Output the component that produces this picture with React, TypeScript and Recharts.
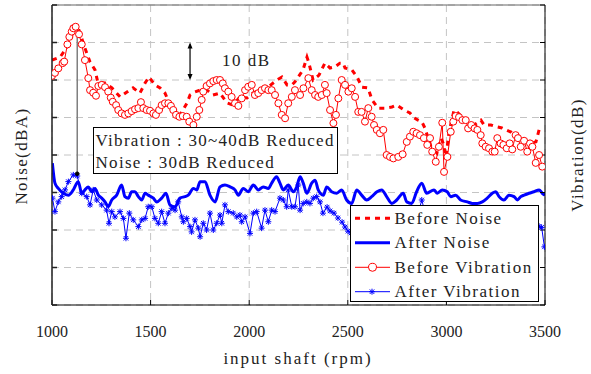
import React from 'react'
import {
  LineChart,
  Line,
  XAxis,
  YAxis,
  CartesianGrid,
  ReferenceLine,
  ReferenceDot,
} from 'recharts'

const FONT = '"Liberation Serif", "DejaVu Serif", serif'
const RED = '#ff0000'
const BLUE = '#0000ff'

const rpmTicks = [1000, 1500, 2000, 2500, 3000, 3500]
const dbTicks = [0, 10, 20, 30, 40, 50, 60, 70, 80]

// [rpm, dB] pairs
const beforeNoise: [number, number][] = [
  [1000, 65.3], [1041, 66.1], [1081, 69.1], [1101, 72], [1127, 74.7], [1142, 72.5],
  [1167, 68.5], [1193, 64.8], [1218, 62.7], [1233, 59.2], [1269, 59.2], [1304, 57.9],
  [1345, 55.5], [1380, 56.8], [1411, 57.9], [1446, 56.5], [1472, 59.2], [1492, 60.8],
  [1522, 58.7], [1548, 57.9], [1573, 56.5], [1588, 54.7], [1609, 52.8], [1624, 50.7],
  [1639, 50.1], [1659, 51.5], [1685, 53.9], [1700, 56], [1725, 56.8], [1751, 57.3],
  [1786, 57.3], [1816, 56], [1852, 56.5], [1887, 53.9], [1918, 53.3], [1953, 55.5],
  [1989, 55.2], [2019, 56.5], [2055, 57.3], [2090, 57.9], [2141, 60], [2166, 60.8],
  [2192, 58.7], [2217, 58.7], [2232, 59.5], [2273, 62.7], [2293, 66.1], [2303, 64.5],
  [2324, 60], [2354, 61.3], [2384, 64.5], [2410, 63.2], [2435, 63.5], [2460, 64.5],
  [2476, 64.5], [2486, 63.2], [2521, 62.7], [2547, 60.8], [2572, 58.1], [2602, 57.9],
  [2623, 54.7], [2653, 52.5], [2689, 52.5], [2724, 52.8], [2749, 53.3], [2785, 52],
  [2815, 51.2], [2836, 49.9], [2856, 49.3], [2876, 48.8], [2891, 47.2], [2922, 42.1],
  [2952, 40.5], [2973, 44.5], [2983, 43.2], [2998, 39.5], [3013, 46.1], [3039, 52],
  [3054, 51.5], [3079, 50.1], [3104, 48.8], [3140, 48], [3175, 49.3], [3191, 48],
  [3226, 48], [3257, 47.5], [3282, 47.2], [3302, 46.7], [3328, 46.1], [3353, 44.8],
  [3378, 44.5], [3409, 43.5], [3434, 43.2], [3454, 43.5], [3470, 46.7], [3490, 47.2],
]

const afterNoise: [number, number][] = [
  [1002, 37.8], [1015, 32.5], [1032, 31.1], [1057, 29.8], [1083, 29.3], [1108, 30.7],
  [1133, 32.9], [1151, 29.8], [1167, 30.7], [1184, 31.5], [1201, 30.2], [1218, 31.1],
  [1235, 29.3], [1252, 28.5], [1269, 27.5], [1285, 26.2], [1303, 28], [1328, 29.3],
  [1353, 32], [1370, 28.9], [1387, 28.5], [1404, 30.2], [1421, 30.2], [1438, 28.9],
  [1455, 28], [1472, 29.8], [1488, 29.3], [1514, 28.5], [1531, 27.5], [1556, 28.5],
  [1578, 29.8], [1598, 26.7], [1624, 26.2], [1649, 28.5], [1674, 28.9], [1691, 29.3],
  [1717, 31.1], [1734, 30.7], [1751, 32.9], [1776, 32.9], [1801, 29.3], [1827, 27.5],
  [1852, 31.5], [1877, 32], [1903, 31.5], [1928, 30.7], [1945, 29.3], [1970, 31.1],
  [1995, 30.2], [2021, 32], [2046, 30.7], [2071, 31.5], [2097, 31.1], [2114, 32.5],
  [2139, 34.2], [2156, 32.5], [2173, 30.7], [2198, 32], [2224, 30.2], [2241, 31.5],
  [2258, 34.2], [2274, 32.5], [2292, 29.8], [2317, 32.5], [2334, 33.3], [2350, 30.7],
  [2376, 29.3], [2393, 31.5], [2418, 30.2], [2444, 29.8], [2469, 30.7], [2494, 28],
  [2520, 27.1], [2545, 30.7], [2570, 29.3], [2596, 28], [2621, 28.9], [2648, 30.2],
  [2672, 30.7], [2697, 28.9], [2723, 27.1], [2748, 28], [2781, 29.8], [2799, 27.5],
  [2824, 27.1], [2849, 30.2], [2875, 32.5], [2900, 29.8], [2937, 30.7], [2954, 29.8],
  [2979, 30.7], [3004, 30.2], [3022, 28.9], [3047, 29.3], [3072, 28], [3106, 27.5],
  [3131, 27.1], [3157, 27.1], [3182, 27.5], [3207, 28.5], [3233, 29.8], [3250, 30.2],
  [3267, 28.9], [3292, 28], [3317, 29.3], [3343, 28.9], [3360, 28], [3377, 28.9],
  [3394, 29.3], [3419, 29.8], [3444, 30.2], [3470, 30.7], [3486, 29.8], [3500, 29.3],
]

const beforeVibration: [number, number][] = [
  [1000, 61.1], [1015, 61.9], [1032, 63.1], [1054, 64.5], [1062, 64.9], [1078, 69.5],
  [1088, 71.5], [1100, 72.9], [1108, 73.8], [1120, 74.2], [1137, 72.2], [1151, 69.5],
  [1167, 65.3], [1184, 60.5], [1193, 57.3], [1209, 56.6], [1223, 55.8], [1235, 58.4],
  [1252, 58.7], [1269, 58.1], [1285, 56.9], [1298, 55.3], [1308, 54.2], [1325, 53.3],
  [1336, 52], [1353, 51.1], [1370, 50.7], [1387, 51.1], [1404, 51.7], [1421, 52.2],
  [1438, 52.5], [1451, 54.1], [1463, 52.5], [1480, 52], [1497, 51.8], [1514, 51.1],
  [1527, 50.7], [1543, 52], [1556, 53.3], [1573, 53.8], [1590, 53.8], [1603, 53.1],
  [1615, 52], [1629, 50.7], [1646, 50.2], [1663, 50.4], [1683, 50.2], [1696, 48.9],
  [1717, 48], [1734, 50.2], [1747, 52], [1759, 54.7], [1767, 56.9], [1784, 58.4],
  [1801, 59.1], [1818, 59.7], [1835, 60], [1852, 60], [1866, 59.1], [1877, 57.8],
  [1894, 56.9], [1911, 55.5], [1928, 53.8], [1945, 53.1], [1962, 55.1], [1979, 57.3],
  [1995, 58.2], [2013, 58.7], [2029, 56], [2046, 56.5], [2063, 57.3], [2080, 57.8],
  [2097, 57.3], [2114, 57.3], [2131, 56], [2148, 53.8], [2165, 50.7], [2182, 49.8],
  [2198, 53.8], [2216, 55.5], [2232, 57.3], [2258, 56], [2275, 57.8], [2300, 60.5],
  [2317, 57.3], [2334, 56], [2350, 55.5], [2368, 56], [2384, 58.7], [2393, 56.5],
  [2410, 52], [2427, 48.5], [2440, 50.7], [2452, 55.1], [2469, 60], [2486, 58.7],
  [2503, 56.9], [2520, 57.8], [2537, 55.5], [2553, 51.5], [2570, 51.5], [2587, 48.9],
  [2604, 52.5], [2621, 50.2], [2633, 48], [2647, 46.7], [2663, 45.8], [2680, 46.7],
  [2697, 40], [2714, 39.5], [2731, 39.1], [2756, 39.5], [2778, 40.2], [2799, 43.5],
  [2815, 44.9], [2832, 46.2], [2849, 45.8], [2866, 45.3], [2886, 44.5], [2903, 42.7],
  [2917, 44.5], [2928, 40.9], [2946, 38.2], [2962, 42.2], [2979, 48.6], [2988, 35.5],
  [3005, 39.5], [3022, 46.2], [3035, 48.9], [3047, 50.4], [3064, 50.1], [3081, 49.3],
  [3098, 49.3], [3110, 47.1], [3126, 48], [3143, 47.1], [3157, 46.7], [3174, 45.3],
  [3182, 43.1], [3199, 42.2], [3216, 41.8], [3233, 40.9], [3245, 40.9], [3258, 44.5],
  [3275, 43.1], [3289, 42.7], [3306, 41.8], [3321, 43.1], [3334, 41.5], [3351, 45.3],
  [3363, 44.5], [3377, 42.2], [3394, 43.8], [3410, 40.9], [3424, 43.1], [3436, 42.2],
  [3453, 37.9], [3470, 40], [3486, 36.9],
]

const afterVibration: [number, number][] = [
  [1002, 28.5], [1015, 24.9], [1032, 27.5], [1049, 28.9], [1066, 30.7], [1083, 32.9],
  [1108, 34.7], [1128, 34.4], [1151, 29.8], [1176, 28.9], [1193, 26.7], [1209, 30.7],
  [1227, 28], [1252, 26.7], [1277, 25.3], [1289, 21.8], [1303, 24.9], [1319, 23.5],
  [1345, 24.9], [1362, 23.1], [1375, 17.8], [1392, 24.5], [1412, 22.7], [1438, 20.9],
  [1455, 22.7], [1472, 23.1], [1488, 26.2], [1506, 26.2], [1522, 23.1], [1539, 21.8],
  [1556, 24.9], [1573, 21.8], [1590, 24.5], [1607, 25.8], [1624, 25.3], [1640, 27.5],
  [1658, 23.5], [1666, 22.2], [1683, 23.1], [1700, 20.9], [1708, 19.5], [1725, 22.7],
  [1742, 20.5], [1751, 18.2], [1767, 21.8], [1784, 20], [1801, 24.5], [1818, 20],
  [1835, 21.8], [1852, 24], [1861, 21.8], [1877, 26.7], [1894, 24.9], [1919, 24.5],
  [1937, 23.5], [1953, 24], [1962, 22.2], [1979, 23.5], [2004, 19.1], [2021, 24.5],
  [2038, 24.9], [2063, 20.5], [2080, 25.3], [2097, 22.2], [2114, 25.3], [2131, 24.9],
  [2156, 28.5], [2173, 28], [2190, 26.2], [2198, 30.7], [2216, 26.2], [2232, 26.2],
  [2249, 32], [2258, 25.3], [2274, 27.1], [2292, 27.5], [2308, 27.1], [2325, 28.5],
  [2342, 28.9], [2359, 27.5], [2374, 24.5], [2395, 26.1], [2410, 25.1], [2430, 24.5],
  [2450, 23.2], [2471, 22.1], [2486, 20.8], [2501, 19.7], [2516, 19.2], [2535, 21.5],
  [2555, 20], [2575, 22.5], [2600, 21], [2625, 23], [2650, 21.5], [2675, 24],
  [2700, 22], [2725, 23.5], [2750, 21], [2775, 24], [2800, 22.5], [2825, 25],
  [2850, 23], [2875, 28], [2895, 24], [2920, 22.5], [2945, 24.5], [2970, 21.5],
  [2995, 23], [3020, 24.5], [3045, 22], [3070, 23.5], [3095, 21], [3120, 22.5],
  [3145, 24], [3170, 21.5], [3195, 23], [3220, 22], [3245, 24], [3270, 21],
  [3295, 22.5], [3320, 24], [3345, 21.5], [3370, 23], [3395, 22], [3420, 24],
  [3445, 22], [3470, 21], [3483, 20.7], [3497, 15.5],
]

const legendLabels = ['Before Noise', 'After Noise', 'Before Vibration', 'After Vibration']

const toRows = (pts: [number, number][]) => pts.map(([rpm, db]) => ({ rpm, db }))

// y axes carry tick marks only, no numbers
const noLabel = () => <g />

function Star({ cx, cy, s = 3 }: { cx: number; cy: number; s?: number }) {
  const d = s * 0.75
  return (
    <g stroke={BLUE} strokeWidth={1}>
      <line x1={cx - s} y1={cy} x2={cx + s} y2={cy} />
      <line x1={cx} y1={cy - s} x2={cx} y2={cy + s} />
      <line x1={cx - d} y1={cy - d} x2={cx + d} y2={cy + d} />
      <line x1={cx - d} y1={cy + d} x2={cx + d} y2={cy - d} />
    </g>
  )
}

function starDot(props: any) {
  const { cx, cy, index } = props
  if (cx == null || cy == null) return <g key={`st-${index}`} />
  return (
    <g key={`st-${index}`}>
      <Star cx={cx} cy={cy} />
    </g>
  )
}

// double headed arrow marking a 10 dB span
function TenDbArrow(props: any) {
  const { x1, y1, y2 } = props
  const top = Math.min(y1, y2)
  const bot = Math.max(y1, y2)
  return (
    <g>
      <line x1={x1} y1={top + 2} x2={x1} y2={bot - 2} stroke="#000" strokeWidth={1.2} />
      <polygon points={`${x1},${top} ${x1 - 2.5},${top + 6} ${x1 + 2.5},${top + 6}`} fill="#000" />
      <polygon points={`${x1},${bot} ${x1 - 2.5},${bot - 6} ${x1 + 2.5},${bot - 6}`} fill="#000" />
      <text
        x={x1 + 32}
        y={(top + bot) / 2 + 5}
        fontFamily={FONT}
        fontSize={17}
        letterSpacing={1.5}
        fill="#222"
      >
        10 dB
      </text>
    </g>
  )
}

function LegendBox() {
  const rowY = [13.3, 37.7, 62.3, 86.7]
  return (
    <div
      style={{
        position: 'absolute',
        left: 350,
        top: 205,
        width: 189,
        height: 97,
        boxSizing: 'border-box',
        border: '1.5px solid #000',
        background: '#fff',
      }}
    >
      <svg width={189} height={97} style={{ position: 'absolute', left: -1.5, top: -1.5 }}>
        <line x1={5} x2={40} y1={rowY[0]} y2={rowY[0]} stroke={RED} strokeWidth={3} strokeDasharray="5 5" />
        <line x1={5} x2={40} y1={rowY[1]} y2={rowY[1]} stroke={BLUE} strokeWidth={3} />
        <line x1={5} x2={40} y1={rowY[2]} y2={rowY[2]} stroke={RED} strokeWidth={1} />
        <circle cx={22.5} cy={rowY[2]} r={4} stroke={RED} fill="#fff" strokeWidth={1} />
        <line x1={5} x2={40} y1={rowY[3]} y2={rowY[3]} stroke={BLUE} strokeWidth={1} />
        <Star cx={22} cy={rowY[3]} />
        {legendLabels.map((label, i) => (
          <text
            key={label}
            x={44.5}
            y={rowY[i] + 5.5}
            fontFamily={FONT}
            fontSize={17}
            letterSpacing={1.5}
            fill="#222"
          >
            {label}
          </text>
        ))}
      </svg>
    </div>
  )
}

const textStyle: React.CSSProperties = {
  position: 'absolute',
  fontFamily: FONT,
  fontSize: 17,
  letterSpacing: 1.5,
  color: '#222',
  whiteSpace: 'nowrap',
  lineHeight: 1,
}

export default function App() {
  return (
    <div style={{ position: 'absolute', left: 0, top: 0, width: 591, height: 374, background: '#fff' }}>
      <LineChart width={591} height={374} margin={{ top: 5, right: 36, bottom: 39, left: 42 }}>
        <CartesianGrid stroke="#c4c4c4" strokeDasharray="7 5" />
        <XAxis
          type="number"
          dataKey="rpm"
          domain={[1000, 3500]}
          ticks={rpmTicks}
          allowDataOverflow
          height={30}
          tickSize={-5}
          tickMargin={26}
          stroke="#000"
          tick={{ fill: '#222', fontSize: 16, fontFamily: FONT }}
        />
        <YAxis
          type="number"
          domain={[0, 80]}
          ticks={dbTicks}
          allowDataOverflow
          width={10}
          tickSize={-5}
          tick={noLabel}
          stroke="#222"
          strokeWidth={1.5}
        />
        <YAxis
          yAxisId="right"
          orientation="right"
          type="number"
          domain={[0, 80]}
          ticks={dbTicks}
          allowDataOverflow
          width={10}
          tickSize={-5}
          tick={noLabel}
          stroke="#000"
        />
        <ReferenceLine y={80} stroke="#666" />
        <Line
          data={toRows(beforeVibration)}
          dataKey="db"
          stroke={RED}
          strokeWidth={1}
          dot={{ r: 3.5, stroke: RED, fill: '#fff', strokeWidth: 1 }}
          isAnimationActive={false}
        />
        <Line
          data={toRows(afterVibration)}
          dataKey="db"
          stroke={BLUE}
          strokeWidth={1}
          dot={starDot}
          isAnimationActive={false}
        />
        <Line
          data={toRows(beforeNoise)}
          dataKey="db"
          stroke={RED}
          strokeWidth={3}
          strokeDasharray="5 5"
          dot={false}
          isAnimationActive={false}
        />
        <Line
          type="monotone"
          data={toRows(afterNoise)}
          dataKey="db"
          stroke={BLUE}
          strokeWidth={3}
          dot={false}
          isAnimationActive={false}
        />
        <ReferenceLine
          segment={[{ x: 1128, y: 35 }, { x: 1128, y: 71.5 }]}
          stroke="#7f7f7f"
          strokeWidth={1.5}
        />
        <ReferenceDot x={1128} y={35} r={1.8} fill="#000" stroke="#000" />
        <ReferenceLine segment={[{ x: 1700, y: 60 }, { x: 1700, y: 70 }]} shape={TenDbArrow} />
      </LineChart>

      <div
        style={{
          position: 'absolute',
          left: 92.5,
          top: 126.5,
          width: 245,
          height: 47,
          boxSizing: 'border-box',
          border: '1.5px solid #000',
          background: '#fff',
        }}
      >
        <div style={{ ...textStyle, left: 2, top: 4.5, letterSpacing: 1.3 }}>Vibration : 30~40dB Reduced</div>
        <div style={{ ...textStyle, left: 2, top: 26, letterSpacing: 1.3 }}>Noise : 30dB Reduced</div>
      </div>

      <LegendBox />

      <div style={{ ...textStyle, left: 298, top: 358, letterSpacing: 2, transform: 'translate(-50%, -50%)' }}>
        input shaft (rpm)
      </div>
      <div
        style={{
          ...textStyle,
          left: 21,
          top: 156,
          letterSpacing: 1.4,
          transform: 'translate(-50%, -50%) rotate(-90deg)',
        }}
      >
        Noise(dBA)
      </div>
      <div
        style={{
          ...textStyle,
          left: 577,
          top: 155,
          letterSpacing: 1.4,
          transform: 'translate(-50%, -50%) rotate(-90deg)',
        }}
      >
        Vibration(dB)
      </div>
    </div>
  )
}
